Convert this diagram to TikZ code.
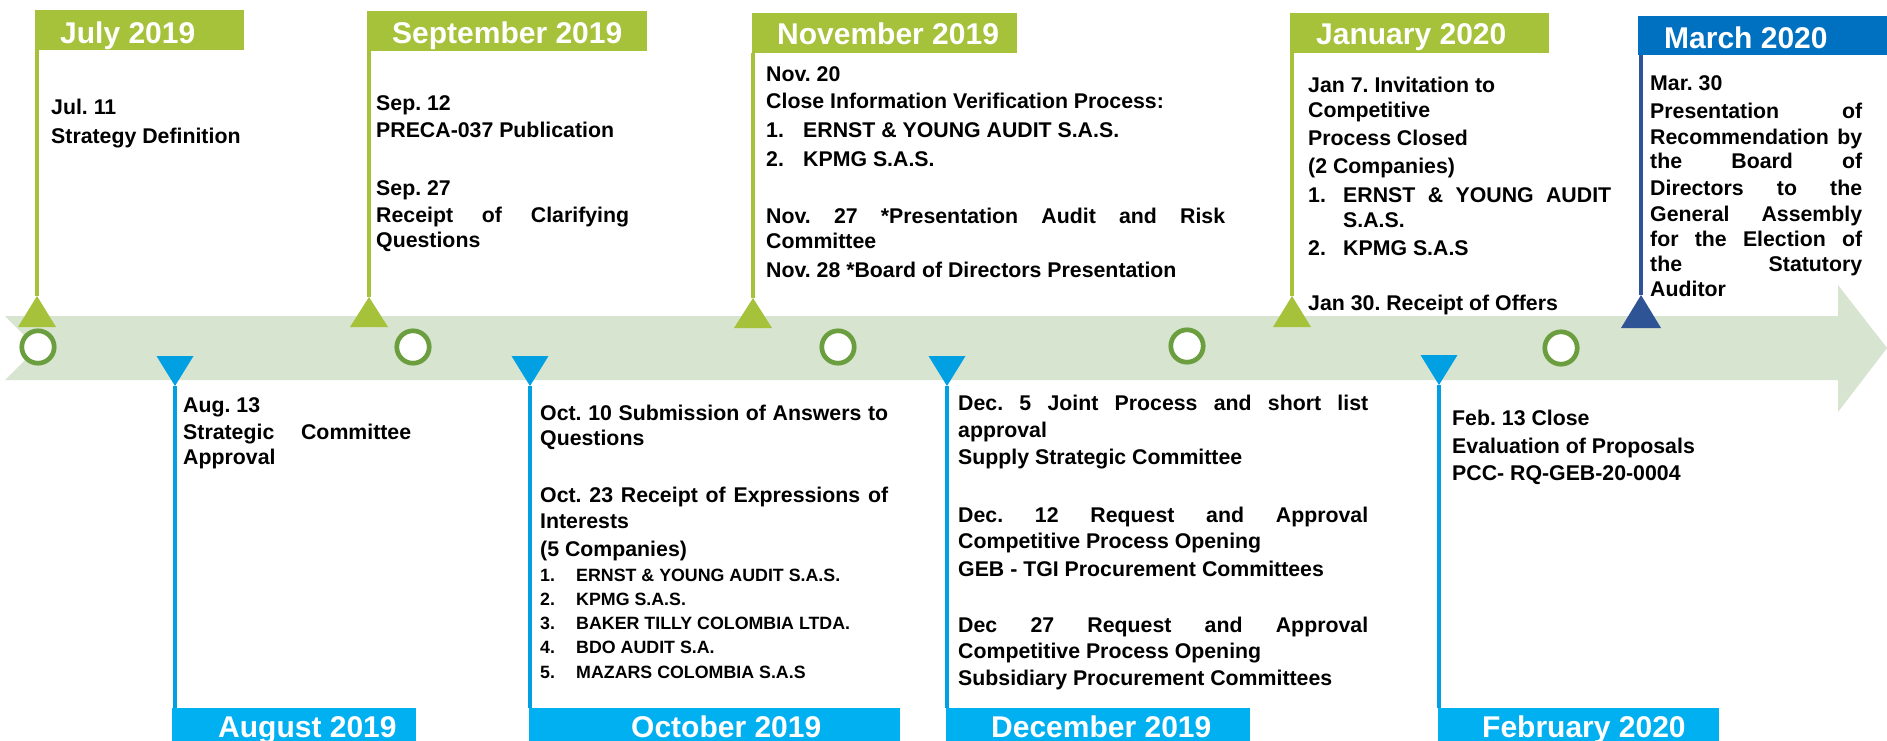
\documentclass[tikz,border=0pt]{standalone}
\usepackage{fontspec}
\setmainfont{Liberation Sans}
\frenchspacing
\definecolor{tgreen}{HTML}{A5C23A}
\definecolor{ringgreen}{HTML}{6A9E3E}
\definecolor{bandcol}{HTML}{D7E4CF}
\definecolor{tblue}{HTML}{00A0E3}
\definecolor{bboxcol}{HTML}{00B0F0}
\definecolor{mboxcol}{HTML}{0070C0}
\definecolor{mlinecol}{HTML}{2F5496}
\newcommand{\jline}[1]{\makebox[\linewidth][s]{#1}}
\newcommand{\itm}[2]{\makebox[#1][l]{#2}}
\newcommand{\titlefnt}{\fontsize{30}{36}\selectfont\bfseries}
\newcommand{\bodyfnt}{\fontsize{21.3}{27}\selectfont\bfseries}
\newcommand{\listfnt}{\fontsize{17.8}{24.3}\selectfont\bfseries}
\tikzset{
  monthbox/.style={text=white, inner sep=0pt, anchor=base west, align=flush left, font=\titlefnt},
  topgreen/.style={monthbox, fill=tgreen, text height=32pt, text depth=8pt},
  topmar/.style={monthbox, fill=mboxcol, text height=32pt, text depth=7pt},
  botblue/.style={monthbox, fill=bboxcol, text height=29pt, text depth=12pt},
  body/.style={anchor=base west, inner sep=0pt, align=flush left, font=\bodyfnt},
  listtext/.style={anchor=base west, inner sep=0pt, align=flush left, font=\listfnt},
  ringnode/.style={circle, draw=ringgreen, line width=4.7pt, fill=white, minimum size=32.4pt, inner sep=0pt},
  gline/.style={draw=tgreen, line width=3.5pt},
  bline/.style={draw=tblue, line width=3.5pt},
  mline/.style={draw=mlinecol, line width=3.5pt}
}
\begin{document}
\begin{tikzpicture}[x=1pt,y=-1pt]
\useasboundingbox (0,0) rectangle (1887,740);
\clip (0,0) rectangle (1887,740);
\fill[white] (0,0) rectangle (1887,740);
% band arrow
\fill[bandcol] (5,316) -- (1838,316) -- (1838,285) -- (1887,348) -- (1838,412) -- (1838,380) -- (5,380) -- (37,348) -- cycle;
% circles
\node[ringnode] (c1) at (38,347) {};
\node[ringnode] (c2) at (413,347) {};
\node[ringnode] (c3) at (838,347) {};
\node[ringnode] (c4) at (1187,346) {};
\node[ringnode] (c5) at (1561,348) {};
% apex coordinates
\coordinate (julapex) at (37,296);
\coordinate (sepapex) at (369,297);
\coordinate (novapex) at (753,298);
\coordinate (janapex) at (1292,296);
\coordinate (marapex) at (1641,295);
\coordinate (augapex) at (175,386);
\coordinate (octapex) at (530,386);
\coordinate (decapex) at (947,386);
\coordinate (febapex) at (1439,385);
% month boxes
\node[topgreen, text width=209pt, text height=33pt, text depth=7pt] (julbox) at (35,43) {\hspace*{25pt}July 2019};
\node[topgreen, text width=280pt, text height=32.3pt, text depth=7.7pt] (sepbox) at (367,43.3) {\hspace*{25pt}September 2019};
\node[topgreen, text width=265pt, text height=31pt, text depth=9pt] (novbox) at (752,44) {\hspace*{25pt}November 2019};
\node[topgreen, text width=259pt, text height=31.3pt, text depth=8.7pt] (janbox) at (1290,44.3) {\hspace*{26pt}January 2020};
\node[topmar, text width=262pt] (marbox) at (1638,48) {\hspace*{26pt}March 2020};
\node[botblue, text width=244pt] (augbox) at (172,737) {\hspace*{46pt}August 2019};
\node[botblue, text width=371pt] (octbox) at (529,737) {\hspace*{102pt}October 2019};
\node[botblue, text width=304pt] (decbox) at (946,737) {\hspace*{45pt}December 2019};
\node[botblue, text width=281pt] (febbox) at (1438,737) {\hspace*{44pt}February 2020};
% connector lines
\draw[gline] (julapex) -- (julapex |- julbox.south);
\draw[gline] (sepapex) -- (sepapex |- sepbox.south);
\draw[gline] (novapex) -- (novapex |- novbox.south);
\draw[gline] (janapex) -- (janapex |- janbox.south);
\draw[mline] (marapex) -- (marapex |- marbox.south);
\draw[bline] (augapex) -- (augapex |- augbox.north);
\draw[bline] (octapex) -- (octapex |- octbox.north);
\draw[bline] (decapex) -- (decapex |- decbox.north);
\draw[bline] (febapex) -- (febapex |- febbox.north);
% triangles
\fill[tgreen] (julapex) -- ++(-19,31) -- ++(38,0) -- cycle;
\fill[tgreen] (sepapex) -- ++(-19,30) -- ++(38,0) -- cycle;
\fill[tgreen] (novapex) -- ++(-19,30) -- ++(38,0) -- cycle;
\fill[tgreen] (janapex) -- ++(-19,31) -- ++(38,0) -- cycle;
\fill[mlinecol] (marapex) -- ++(-20,33) -- ++(40,0) -- cycle;
\fill[tblue] (augapex) -- ++(-18.5,-30) -- ++(37,0) -- cycle;
\fill[tblue] (octapex) -- ++(-18.5,-30) -- ++(37,0) -- cycle;
\fill[tblue] (decapex) -- ++(-18.5,-30) -- ++(37,0) -- cycle;
\fill[tblue] (febapex) -- ++(-18.5,-30) -- ++(37,0) -- cycle;
% texts
\node[body, text width=200pt] (jultext) at (51,114) {Jul. 11\\[2pt]Strategy Definition};
\node[body, text width=253pt] (septext) at (376,110) {Sep. 12\\PRECA-037 Publication\\[31pt]Sep. 27\\\jline{Receipt of Clarifying}\\[-2pt]Questions};
\node[body, text width=459pt] (novtext) at (766,81) {Nov. 20\\Close Information Verification Process:\\[2pt]\itm{37pt}{1.}ERNST \& YOUNG AUDIT S.A.S.\\[2pt]\itm{37pt}{2.}KPMG S.A.S.\\[30pt]\jline{Nov. 27 *Presentation Audit and Risk}\\[-2pt]Committee\\[2pt]Nov. 28 *Board of Directors Presentation};
\node[body, text width=303pt] (jantext) at (1308,92) {Jan 7. Invitation to\\[-2pt]Competitive\\[1pt]Process Closed\\[1pt](2 Companies)\\[2pt]\itm{35pt}{1.}\makebox[268pt][s]{ERNST \& YOUNG AUDIT}\\[-2pt]\hspace*{35pt}S.A.S.\\[1pt]\itm{35pt}{2.}KPMG S.A.S\\[28pt]Jan 30. Receipt of Offers};
\node[body, text width=212pt] (martext) at (1650,90) {Mar. 30\\[1.3pt]\jline{Presentation of}\\[-1.3pt]\jline{Recommendation by}\\[-2.7pt]\jline{the Board of}\\[-0.3pt]\jline{Directors to the}\\[-1pt]\jline{General Assembly}\\[-1.3pt]\jline{for the Election of}\\[-2pt]\jline{the Statutory}\\[-2pt]Auditor};
\node[body, text width=228pt] (augtext) at (183,412) {Aug. 13\\\jline{Strategic Committee}\\[-2pt]Approval};
\node[body, text width=348pt] (octtext) at (540,420) {\jline{Oct. 10 Submission of Answers to}\\[-2pt]Questions\\[30pt]\jline{Oct. 23 Receipt of Expressions of}\\[-1pt]Interests\\[1pt](5 Companies)};
\node[listtext, text width=348pt] (octlist) at (540,581) {\itm{36pt}{1.}ERNST \& YOUNG AUDIT S.A.S.\\\itm{36pt}{2.}KPMG S.A.S.\\\itm{36pt}{3.}BAKER TILLY COLOMBIA LTDA.\\\itm{36pt}{4.}BDO AUDIT S.A.\\\itm{36pt}{5.}MAZARS COLOMBIA S.A.S};
\node[body, text width=410pt] (dectext) at (958,410) {\jline{Dec. 5 Joint Process and short list}\\approval\\Supply Strategic Committee\\[31pt]\jline{Dec. 12 Request and Approval}\\[-1pt]Competitive Process Opening\\[1pt]GEB - TGI Procurement Committees\\[29pt]\jline{Dec 27 Request and Approval}\\[-1pt]Competitive Process Opening\\Subsidiary Procurement Committees};
\node[body, text width=260pt] (febtext) at (1452,425) {Feb. 13 Close\\[1pt]Evaluation of Proposals\\PCC- RQ-GEB-20-0004};
\end{tikzpicture}
\end{document}
